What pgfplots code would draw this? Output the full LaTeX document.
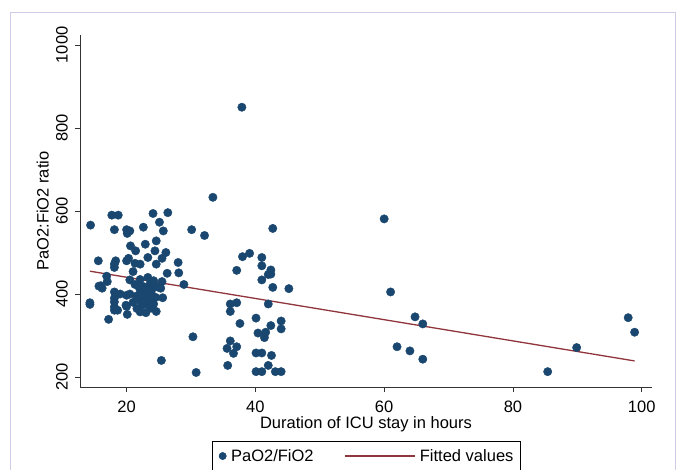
\documentclass[border=0pt]{standalone}
\usepackage{fontspec}
\setmainfont{Liberation Sans}
\usepackage{pgfplots}
\usepackage{pgfplotstable}
\pgfplotsset{compat=1.18}
\definecolor{stnavy}{RGB}{26,71,111}
\definecolor{stmaroon}{RGB}{144,53,59}
\definecolor{frameblue}{RGB}{205,205,232}
\newcommand{\fs}{\fontsize{16.5bp}{19.8bp}\selectfont}

\pgfplotstableread{
x y
17.7 590
18.7 590
24.1 594
26.4 596
14.4 566
25.1 573
18.1 555
20.0 555
20.5 552
20.1 546
22.6 561
25.7 552
30.1 555
32.1 541
24.6 528
22.9 520
20.6 516
21.4 504
24.4 504
26.1 500
25.5 486
23.3 488
20.3 486
20.0 480
15.6 480
18.3 480
18.1 472
18.1 464
21.3 474
22.1 472
24.6 472
28.0 476
28.1 451
26.3 450
21.0 454
16.9 443
17.0 430
15.7 419
16.2 414
20.5 434
22.1 435
23.3 440
24.2 432
25.5 430
28.9 423
21.3 423
21.9 418
22.6 418
23.6 423
24.4 418
25.0 416
22.1 410
23.2 410
23.9 410
18.1 405
25.3 414
25.6 391
20.0 397
20.5 400
18.1 390
18.1 381
18.1 369
18.1 361
18.6 361
14.3 379
14.3 375
19.9 373
20.0 370
22.1 384
23.2 386
24.0 384
22.4 373
23.4 373
24.2 376
22.1 357
23.0 355
24.6 358
20.1 351
17.2 339
21.5 395
22.8 395
23.5 398
21.0 380
24.5 392
22.5 402
23.8 402
21.6 365
23.8 366
19.0 400
16.0 420
30.3 297
30.8 211
25.4 240
33.4 633
37.9 850
42.7 558
38.0 490
39.1 498
41.0 488
37.1 457
41.0 468
42.4 458
42.4 448
42.0 447
41.0 434
42.7 416
45.2 413
42.0 376
36.1 376
37.1 379
36.1 358
37.6 329
40.1 342
44.0 335
44.0 316
42.4 324
40.4 306
41.6 308
41.4 295
36.1 287
37.1 273
35.6 269
36.6 257
40.1 258
41.0 258
42.5 252
35.7 228
42.0 228
40.1 213
41.0 213
43.1 213
44.0 213
60.0 581
61.0 405
64.8 345
66.0 328
62.0 273
64.0 263
66.0 243
85.4 213
89.9 271
97.9 343
98.9 308
}\ptdata

\pgfplotstableread{
x y
14.3 455
98.9 238.8
}\fitdata

\begin{document}
\begin{tikzpicture}
\useasboundingbox (0,0) rectangle (677bp,-470bp);
\fill[white] (0,0) rectangle (677bp,-470bp);
\draw[frameblue, line width=1bp] (10.5bp,-12.5bp) rectangle (675.5bp,-480bp);
\begin{axis}[
  at={(80bp,-387bp)}, anchor=south west,
  scale only axis, width=572bp, height=352bp,
  xmin=12.76, xmax=101.6, ymin=176, ymax=1024,
  axis x line*=bottom, axis y line*=left,
  axis line style={black!80, line width=0.8bp},
  xtick={20,40,60,80,100}, ytick={200,400,600,800,1000},
  tick align=outside, major tick length=5bp,
  tick style={black!80, line width=0.8bp},
  /pgf/number format/assume math mode=true,
  /pgf/number format/1000 sep={},
  ticklabel style={font=\fs, text=black},
  xticklabel style={anchor=north, inner sep=0pt},
  yticklabel style={rotate=90, anchor=south, inner sep=0pt},
  xticklabel shift=9bp,
  yticklabel shift=7bp,
  xlabel={Duration of ICU stay in hours},
  ylabel={PaO2:FiO2 ratio},
  every axis x label/.style={at={(axis description cs:0.5,-0.0838)}, anchor=north, inner sep=0pt, font=\fs},
  every axis y label/.style={at={(axis description cs:-0.0542,0.5)}, rotate=90, anchor=south, inner sep=0pt, font=\fs},
  clip=false,
  legend columns=2,
  legend style={at={(axis description cs:0.2302,-0.1534)}, anchor=north west,
    draw=black, line width=0.6bp, font=\fs, inner xsep=6.8bp, inner ysep=5bp,
    row sep=0pt,
    nodes={inner xsep=0pt, inner ysep=3bp},
    /tikz/every odd column/.append style={column sep=4.5bp},
    /tikz/every even column/.append style={column sep=31bp}},
]
\addplot[only marks, mark=*, mark size=4.2bp, color=stnavy, fill=stnavy,
  legend image code/.code={\path (0bp,0bp) -- (7.2bp,0bp); \fill[stnavy] (3.6bp,0bp) circle (3.6bp);}]
  table[x=x,y=y]{\ptdata};
\addlegendentry{PaO2/FiO2}
\addplot[no marks, color=stmaroon, line width=1.3bp,
  legend image code/.code={\draw[stmaroon, line width=1.3bp] (0bp,0bp) -- (64bp,0bp); \path (64bp,0bp) -- (69.5bp,0bp);}]
  table[x=x,y=y]{\fitdata};
\addlegendentry{Fitted values\hspace{5bp}}
\end{axis}
\end{tikzpicture}
\end{document}
